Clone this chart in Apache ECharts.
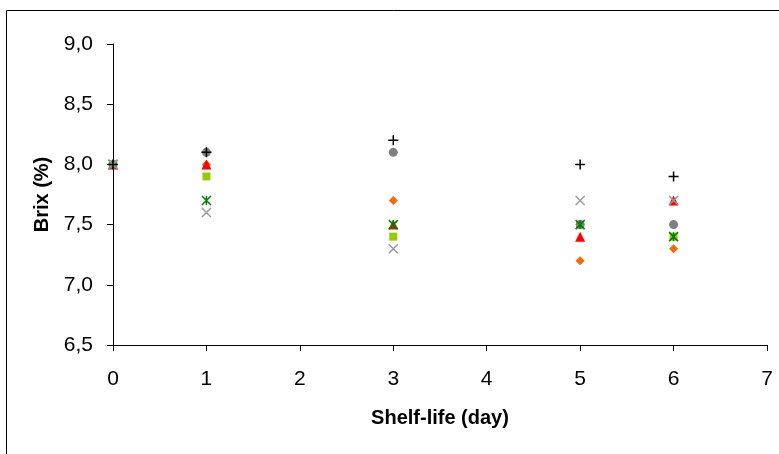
<!DOCTYPE html>
<html><head><meta charset="utf-8">
<script src="https://cdn.jsdelivr.net/npm/echarts@6/dist/echarts.min.js"></script>
<style>html,body{margin:0;padding:0;background:#fff}#c{width:779px;height:454px}</style>
</head><body><div id="c"></div>
<script>
const days = [0, 1, 3, 5, 6];
const xTicks = [0, 1, 2, 3, 4, 5, 6, 7];
const yTicks = [6.5, 7.0, 7.5, 8.0, 8.5, 9.0];
const seriesDiamond  = [8.0, 8.0, 7.7, 7.2, 7.3];
const seriesSquare   = [8.0, 7.9, 7.4, 7.5, 7.4];
const seriesTriangle = [8.0, 8.0, 7.5, 7.4, 7.7];
const seriesCircle   = [8.0, 8.1, 8.1, 7.5, 7.5];
const seriesAsterisk = [8.0, 7.7, 7.5, 7.5, 7.4];
const seriesCross    = [8.0, 7.6, 7.3, 7.7, 7.7];
const seriesPlus     = [8.0, 8.1, 8.2, 8.0, 7.9];

const PLUS = 'path://M0,5 L10,5 M5,0 L5,10';
const XMARK = 'path://M0,0 L10,10 M10,0 L0,10';
const AST = 'path://M0,0 L10,10 M10,0 L0,10 M5,0 L5,10';

function pts(vals){ return days.map((d,i)=>[d, vals[i]]); }
function filled(name, vals, symbol, size, color){
  return {name, type:'scatter', data:pts(vals), symbol, symbolSize:size,
    itemStyle:{color, opacity:1}, emphasis:{disabled:true}};
}
function stroked(name, vals, symbol, size, color, w){
  return {name, type:'scatter', data:pts(vals), symbol, symbolSize:size,
    itemStyle:{color:'none', borderColor:color, borderWidth:w, opacity:1}, emphasis:{disabled:true}};
}
const fmt = v => v.toFixed(1).replace('.', ',');
const chart = echarts.init(document.getElementById('c'), null, {renderer:'canvas'});
chart.setOption({
  animation:false,
  backgroundColor:'#fff',
  textStyle:{fontFamily:'Liberation Sans'},
  grid:{left:113, right:12, top:44, bottom:109, containLabel:false},
  xAxis:{type:'value', min:xTicks[0], max:xTicks[xTicks.length-1], interval:1,
    name:'Shelf-life (day)', nameLocation:'middle', nameGap:73,
    nameTextStyle:{fontFamily:'Liberation Sans', fontWeight:'bold', fontSize:20, color:'#000', verticalAlign:'middle'},
    axisLine:{show:true, lineStyle:{color:'#000', width:1}},
    axisTick:{show:true, inside:false, length:6, lineStyle:{color:'#000'}},
    axisLabel:{fontFamily:'Liberation Sans', fontSize:21, color:'#000', margin:24},
    splitLine:{show:false}},
  yAxis:{type:'value', min:yTicks[0], max:yTicks[yTicks.length-1], interval:0.5,
    name:'Brix (%)', nameLocation:'middle', nameGap:71, nameRotate:90,
    nameTextStyle:{fontFamily:'Liberation Sans', fontWeight:'bold', fontSize:20, color:'#000', verticalAlign:'middle'},
    axisLine:{show:true, lineStyle:{color:'#000', width:1}},
    axisTick:{show:true, inside:false, length:6, lineStyle:{color:'#000'}},
    axisLabel:{fontFamily:'Liberation Sans', fontSize:21, color:'#000', margin:20, formatter:fmt},
    splitLine:{show:false}},
  graphic:[{type:'rect', shape:{x:6.5, y:10.5, width:900, height:600}, silent:true,
    style:{fill:'none', stroke:'#000', lineWidth:1}, z:-1}],
  series:[
    filled('diamond', seriesDiamond, 'diamond', 9, '#ff6600'),
    filled('square', seriesSquare, 'rect', 8, '#99cc00'),
    filled('triangle', seriesTriangle, 'triangle', 10, '#ff0000'),
    filled('circle', seriesCircle, 'circle', 9, '#808080'),
    stroked('asterisk', seriesAsterisk, AST, 9, '#008000', 1.5),
    stroked('cross', seriesCross, XMARK, 9, '#999999', 1.5),
    stroked('plus', seriesPlus, PLUS, 10, '#000000', 1.5)
  ]
});
</script></body></html>
